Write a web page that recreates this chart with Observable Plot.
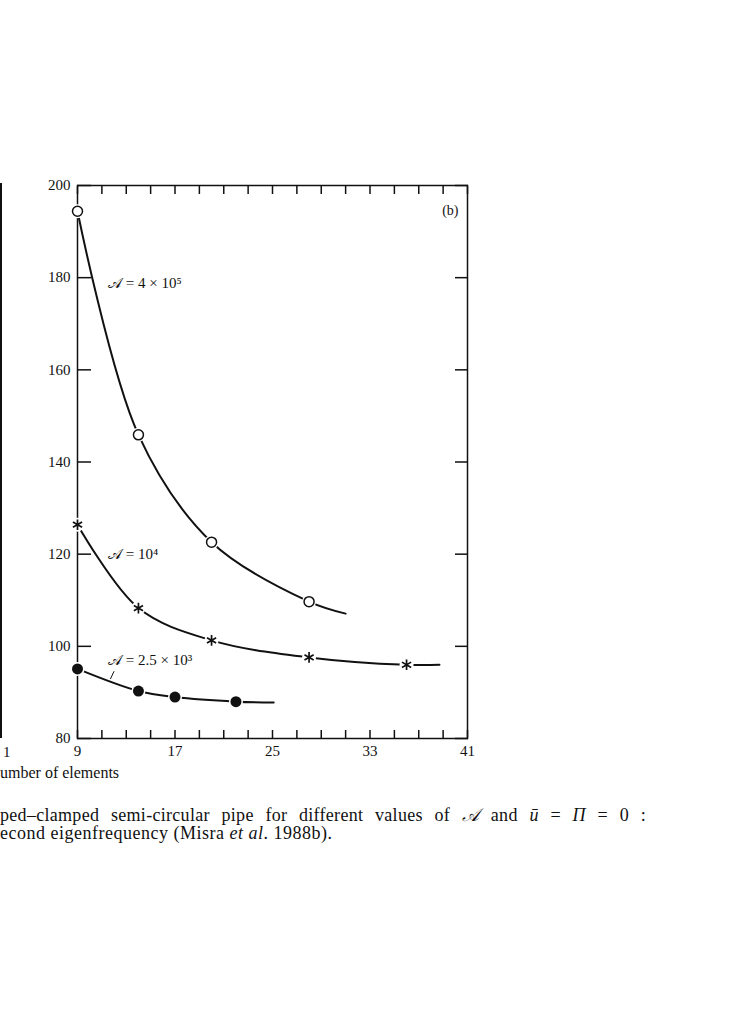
<!DOCTYPE html>
<html><head><meta charset="utf-8">
<script src="https://cdn.jsdelivr.net/npm/d3@7"></script>
<script src="https://cdn.jsdelivr.net/npm/@observablehq/plot@0.6"></script>
<style>
body{margin:0;background:#fff;font-family:"Liberation Serif",serif;color:#111;}
#wrap{position:relative;width:756px;height:1024px;overflow:hidden;background:#fff;}
#chart{position:absolute;left:0;top:0;}
.abs{position:absolute;white-space:nowrap;line-height:1;}
</style></head><body>
<div id="wrap">
<div id="chart"></div>
<div class="abs" style="left:0;top:183px;width:2px;height:555px;background:#111"></div>
<div class="abs" style="left:3px;top:745px;font-size:15px">1</div>
<div class="abs" style="left:0;top:765px;font-size:16px">umber of elements</div>
<div class="abs" style="left:0;top:806px;width:646px;font-size:18px;letter-spacing:0.3px;white-space:normal;text-align:justify;text-align-last:justify">ped–clamped semi-circular pipe for different values of <i>𝒜</i> and <i>ū</i> = <i>Π</i> = 0 :</div>
<div class="abs" style="left:0;top:824px;font-size:18px;letter-spacing:0.5px">econd eigenfrequency (Misra <i>et al</i>. 1988b).</div>
</div>
<script>
// number of elements (x) and eigenfrequency (y); last point of each = end of drawn curve
const nA = [9, 14, 20, 28, 31];
const fA = [194.4, 145.9, 122.6, 109.7, 107.1];
const nB = [9, 14, 20, 28, 36, 38.7];
const fB = [126.4, 108.3, 101.3, 97.6, 96.0, 96.0];
const nC = [9, 14, 17, 22, 25.1];
const fC = [95.1, 90.3, 89.0, 88.0, 87.8];
const markersA = 4, markersB = 5, markersC = 4;

const xTicks = d3.range(9, 42, 2);
const xLabels = [9, 17, 25, 33, 41];
const yTicks = [80, 100, 120, 140, 160, 180, 200];

const labelText = ["𝒜 = 4 × 10⁵", "𝒜 = 10⁴", "𝒜 = 2.5 × 10³"];
const labelN = [11.5, 11.5, 11.5];
const labelF = [178.7, 120.1, 96.9];

const toRows = (ns, fs) => ns.map((n, i) => ({n, f: fs[i]}));
const A = toRows(nA, fA), B = toRows(nB, fB), C = toRows(nC, fC);
const mA = A.slice(0, markersA), mB = B.slice(0, markersB), mC = C.slice(0, markersC);
const labels = labelText.map((t, i) => ({t, n: labelN[i], f: labelF[i]}));
const leader = [{n1: 12.0, f1: 94.6, n2: 11.7, f2: 92.9}];

const lineOpts = {x: "n", y: "f", stroke: "#111", strokeWidth: 2, curve: "catmull-rom"};
const plot = Plot.plot({
  width: 756, height: 760,
  marginTop: 185, marginLeft: 77, marginRight: 289, marginBottom: 22,
  style: {fontFamily: "Liberation Serif, serif", fontSize: "15px", color: "#111", background: "transparent"},
  x: {domain: [9, 41], axis: null},
  y: {domain: [80, 200], axis: null},
  marks: [
    Plot.axisX(xLabels, {anchor: "bottom", tickSize: 0, tickPadding: 7, tickFormat: d => String(d)}),
    Plot.axisX(xTicks, {anchor: "bottom", tickSize: -8, tickFormat: () => "", strokeWidth: 1.5}),
    Plot.axisX(xTicks, {anchor: "top", tickSize: -8, tickFormat: () => "", strokeWidth: 1.5}),
    Plot.axisY(yTicks, {anchor: "left", tickSize: 0, tickPadding: 7, tickFormat: d => String(d)}),
    Plot.axisY(yTicks, {anchor: "left", tickSize: -14, tickFormat: () => "", strokeWidth: 1.5}),
    Plot.axisY(yTicks, {anchor: "right", tickSize: -13, tickFormat: () => "", strokeWidth: 1.5}),
    Plot.frame({stroke: "#111", strokeWidth: 1.5}),
    Plot.line(A, lineOpts),
    Plot.line(B, lineOpts),
    Plot.line(C, lineOpts),
    Plot.dot([...mA, ...mB, ...mC], {x: "n", y: "f", r: 7, fill: "white", stroke: null}),
    Plot.dot(mA, {x: "n", y: "f", r: 5, fill: "white", stroke: "#111", strokeWidth: 1.5}),
    Plot.dot(mB, {x: "n", y: "f", r: 5, symbol: "asterisk", stroke: "#111", strokeWidth: 1.7}),
    Plot.dot(mC, {x: "n", y: "f", r: 5.5, fill: "#111", stroke: null}),
    Plot.text(labels, {x: "n", y: "f", text: "t", textAnchor: "start", fontSize: 15, fill: "#111"}),
    Plot.link(leader, {x1: "n1", y1: "f1", x2: "n2", y2: "f2", stroke: "#111", strokeWidth: 1}),
    Plot.text(["(b)"], {frameAnchor: "top-right", dx: -9, dy: 20, fontSize: 14, fill: "#111"})
  ]
});
document.getElementById("chart").appendChild(plot);
</script>
</body></html>
